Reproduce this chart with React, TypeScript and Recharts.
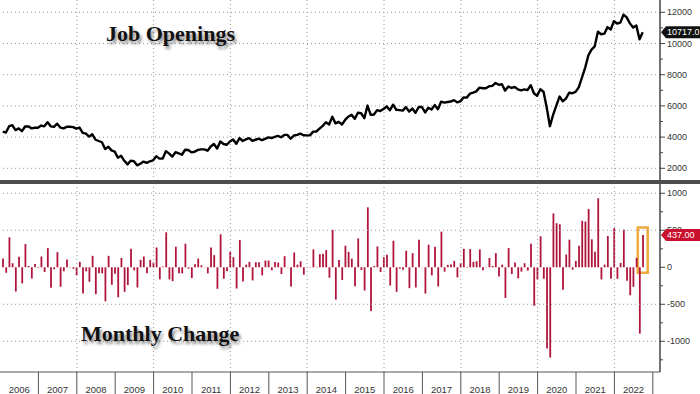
import React from 'react';
import { LineChart, Line, ComposedChart, Bar, XAxis, YAxis, ReferenceLine, ReferenceArea } from 'recharts';

// ---------- data ----------
const yearLabels = ['2006', '2007', '2008', '2009', '2010', '2011', '2012', '2013', '2014', '2015', '2016', '2017', '2018', '2019', '2020', '2021', '2022'];

// Job openings (thousands), monthly
const openings = [
  4350, 4290, 4700, 4760, 4450, 4560, 4380, 4680, 4690, 4560,
  4600, 4600, 4740, 4690, 4950, 4690, 4660, 4860, 4610, 4560,
  4660, 4660, 4640, 4540, 4610, 4270, 4220, 4030, 4180, 3830,
  3750, 3670, 3230, 3380, 3150, 3070, 2680, 2800, 2480, 2250,
  2490, 2450, 2190, 2290, 2430, 2350, 2450, 2510, 2770, 2620,
  2630,
  3100, 2940, 2750, 3030, 2950, 2870, 3190, 3170, 3020, 3060,
  3180, 3210, 3210, 3130, 3400, 3560, 3270, 3720, 3560, 3510,
  3720, 3850, 3570, 3940, 3750, 3850, 3930, 3760, 3830, 3900,
  3800, 3890, 3980, 3940, 4020, 4080, 3990, 4140, 4140, 3900,
  4100, 4140, 4220, 4120, 4110, 4110, 4350, 4360, 4540, 4720,
  4950,
  4810, 5310, 4880, 4980, 4810, 5100, 5310, 5430, 5170, 5560,
  5530, 5210, 6020, 5430, 5450, 5730, 5670, 5800, 5970, 5720,
  6080, 5750, 5730, 5700, 5920, 5640, 5830, 5560, 5930, 5930,
  5580, 5880, 5770, 6050, 5790, 6270, 6210, 6250, 6280, 6370,
  6230, 6290, 6540, 6530, 6780, 6850, 6930, 7170, 7130, 7130,
  7260,
  7280, 7470, 7350, 7390, 6980, 7240, 7150, 7210, 7060, 7000,
  7060, 7010, 7330, 6810, 6650, 7070, 6910, 5900, 4700, 5430,
  6020, 6600, 6300, 6470, 6840, 6810, 6900, 7190, 7820, 8440,
  9230, 9610, 9820, 10750, 10590, 10630, 11050, 10900, 11430, 11280,
  11340, 11850, 11670, 11290, 11030, 11160, 10270, 10717,
];

// Monthly change (thousands)
const changes = [
  118, -73, 405, 55, -328, 141, -218, 314, 18, -150,
  45, -9, 146, -64, 259, -278, -27, 205, -264, -55,
  105, 5, -20, -105, 73, -355, -55, -196, 155, -364,
  -82, -82, -460, 155, -237, -86, -405, 127, -332, -241,
  250, -41, -273, 100, 146, -82, 100, 64, 268, -164,
  10,
  473, -164, -187, 278, -82, -82, 318, -18, -146, 41,
  118, 27, 3, -82, 268, 164, -291, 446, -155, -55,
  209, 136, -287, 369, -191, 36, 73, -177, 68, 68,
  -109, 91, 91, -41, 73, 64, -91, 150, 4, -259,
  200, 36, 82, -100, 3, 5, 241, 5, 177, 182,
  232,
  -141, 505, -437, 100, -173, 291, 209, 118, -255, 391,
  -36, -314, 810, -592, 18, 282, -64, 136, 168, -246,
  359, -332, -18, -32, 223, -282, 191, -273, 373, 3,
  -355, 305, -109, 278, -259, 482, -59, 32, 36, 86,
  -136, 55, 250, -5, 246, 73, 82, 241, -41, 3,
  127,
  18, 191, -123, 36, -414, 259, -91, 64, -150, -59,
  55, -45, 318, -519, -164, 419, -155, -1097, -1219, 728,
  596, 582, -305, 173, 373, -32, 86, 291, 628, 619,
  787, 378, 209, 933, -164, 36, 423, -155, 528, -155,
  59, 510, -182, -378, -264, 127, -896, 437,
];

const openingsMajorTicks = [2000, 4000, 6000, 8000, 10000, 12000];
const openingsMinorTicks = [3000, 5000, 7000, 9000, 11000];
const changeMajorTicks = [-1000, -500, 0, 500, 1000];
const changeMinorTicks = [-1250, -750, -250, 250, 750];

// ---------- layout ----------
const W = 700;
const PLOT_W = 660;
const X_DOMAIN: [number, number] = [0, 206.25];
const FIRST_T = 0.85;
const HALF_YEAR_PX = (PLOT_W / (X_DOMAIN[1] - X_DOMAIN[0])) * 6;
const AXIS_FONT = "'Liberation Sans', Arial, sans-serif";
const TITLE_FONT = "'Liberation Serif', 'Times New Roman', serif";
const GRID = '#9a9a9a';
const BAR_COLOR = '#b0163c';

const data = openings.map((v, i) => ({ t: i + FIRST_T, open: v, chg: changes[i] }));
const last = data[data.length - 1];
const yearTicks = yearLabels.map((_, k) => (k + 1) * 12);
const gridX = yearTicks.filter((v) => v % 24 === 0);

const makeYTick = (majors: number[], tagValue: number, tagFill: string, digits: number) => (props: any) => {
  const { x, y, payload } = props;
  const v = payload.value;
  const ax = x - 7;
  if (v === tagValue) {
    return (
      <g>
        <polygon
          points={`${ax + 1},${y} ${ax + 6},${y - 6} ${ax + 40},${y - 6} ${ax + 40},${y + 6} ${ax + 6},${y + 6}`}
          fill={tagFill}
        />
        <text x={ax + 7} y={y} dy="0.35em" fill="#fff" fontSize={9} fontFamily={AXIS_FONT}>
          {v.toFixed(digits)}
        </text>
      </g>
    );
  }
  const major = majors.includes(v);
  return (
    <g>
      <line x1={ax} x2={ax + (major ? 5 : 3)} y1={y} y2={y} stroke="#444" strokeWidth={1} />
      {major && (
        <text x={x} y={y} dy="0.35em" fill="#333" fontSize={9} fontFamily={AXIS_FONT}>
          {String(v)}
        </text>
      )}
    </g>
  );
};

const YearTick = (props: any) => {
  const { x, y, payload } = props;
  const k = yearTicks.indexOf(payload.value);
  return (
    <text x={x - HALF_YEAR_PX} y={y - 3} textAnchor="middle" fill="#333" fontSize={9.5} fontFamily={AXIS_FONT}>
      {yearLabels[k]}
    </text>
  );
};

const titleStyle: React.CSSProperties = {
  position: 'absolute',
  fontFamily: TITLE_FONT,
  fontWeight: 'bold',
  fontSize: 22,
  lineHeight: '22px',
  color: '#111',
  textShadow: '2px 3px 3px rgba(0,0,0,0.45)',
  whiteSpace: 'nowrap',
};

export default function App() {
  return (
    <div style={{ position: 'absolute', left: 0, top: 0, width: W, height: 394, background: '#fff', overflow: 'hidden' }}>
      <div style={{ position: 'absolute', left: 0, top: 0 }}>
        <LineChart width={W} height={181} data={data} margin={{ top: 0, right: 0, bottom: 0, left: 0 }}>
          <XAxis dataKey="t" type="number" domain={X_DOMAIN} allowDataOverflow hide />
          <YAxis
            orientation="right"
            width={40}
            type="number"
            domain={[1186, 12788]}
            allowDataOverflow
            ticks={[...openingsMajorTicks, ...openingsMinorTicks, last.open]}
            interval={0}
            tickSize={5}
            tickMargin={2}
            tickLine={false}
            axisLine={{ stroke: '#444', strokeWidth: 1.5 }}
            tick={makeYTick(openingsMajorTicks, last.open, '#111', 1)}
          />
          {openingsMajorTicks.map((v) => (
            <ReferenceLine key={'h' + v} y={v} stroke={GRID} strokeDasharray="1 3" />
          ))}
          {gridX.map((v) => (
            <ReferenceLine key={'v' + v} x={v} stroke={GRID} strokeDasharray="1 3" />
          ))}
          <Line
            type="linear"
            dataKey="open"
            stroke="#000"
            strokeWidth={2.4}
            strokeLinejoin="round"
            dot={false}
            activeDot={false}
            isAnimationActive={false}
          />
        </LineChart>
      </div>
      <div style={{ position: 'absolute', left: 0, top: 183 }}>
        <ComposedChart width={W} height={211} data={data} margin={{ top: 0, right: 0, bottom: 0, left: 0 }}>
          <XAxis
            dataKey="t"
            type="number"
            domain={X_DOMAIN}
            allowDataOverflow
            ticks={yearTicks}
            interval={0}
            height={22}
            tickSize={22}
            tickMargin={2}
            axisLine={{ stroke: '#555' }}
            tickLine={{ stroke: '#555' }}
            tick={YearTick}
          />
          <YAxis
            orientation="right"
            width={40}
            type="number"
            domain={[-1415, 1139]}
            allowDataOverflow
            ticks={[...changeMajorTicks, ...changeMinorTicks, last.chg]}
            interval={0}
            tickSize={5}
            tickMargin={2}
            tickLine={false}
            axisLine={{ stroke: '#444', strokeWidth: 1.5 }}
            tick={makeYTick(changeMajorTicks, last.chg, '#c8102e', 2)}
          />
          {changeMajorTicks.filter((v) => v !== 0).map((v) => (
            <ReferenceLine key={'h' + v} y={v} stroke={GRID} strokeDasharray="1 3" />
          ))}
          {gridX.map((v) => (
            <ReferenceLine key={'v' + v} x={v} stroke={GRID} strokeDasharray="1 3" />
          ))}
          <Bar dataKey="chg" fill={BAR_COLOR} barSize={1.8} isAnimationActive={false} />
          <ReferenceArea
            x1={last.t - 1.55}
            x2={last.t + 1.55}
            y1={-75}
            y2={last.chg + 100}
            fill="none"
            fillOpacity={0}
            stroke="#f0a93b"
            strokeWidth={2.5}
            ifOverflow="visible"
          />
        </ComposedChart>
      </div>
      <div style={{ position: 'absolute', left: 0, top: 180, width: W, height: 4, background: '#4d4d4d' }} />
      <div style={{ ...titleStyle, left: 106, top: 23 }}>Job Openings</div>
      <div style={{ ...titleStyle, left: 81, top: 323 }}>Monthly Change</div>
    </div>
  );
}
